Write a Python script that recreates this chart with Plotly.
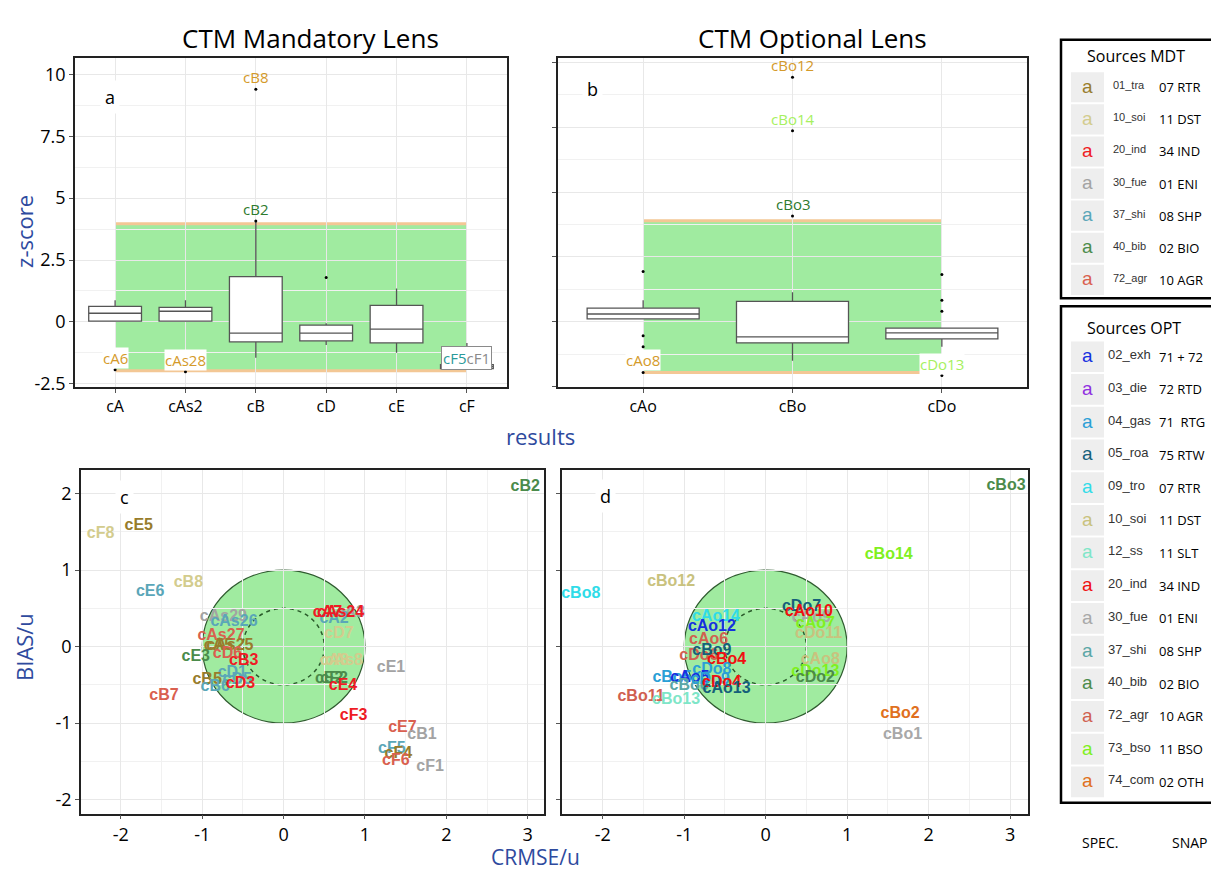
import plotly.graph_objects as go

# the page shows the figure 8 px in from the left window edge (body margin); vertically it sits at the top
OFF_X, OFF_Y = 8, 0
W, H = 1219 - OFF_X, 871

# ---------------- Panel a : CTM Mandatory Lens (z-score box plots) ----------------
cats_a = ["cA", "cAs2", "cB", "cD", "cE", "cF"]
q1_a = [0.03, 0.03, -0.81, -0.77, -0.85, -1.89]
med_a = [0.35, 0.43, -0.45, -0.45, -0.29, -1.81]
q3_a = [0.63, 0.59, 1.83, -0.13, 0.67, -1.73]
lo_a = [0.03, 0.03, -1.45, -0.93, -1.25, -1.89]
hi_a = [0.87, 0.87, 4.08, -0.05, 1.35, -0.85]
out_a_cat = ["cA", "cAs2", "cB", "cB", "cD"]
out_a_val = [-1.93, -2.01, 9.40, 4.08, 1.79]
out_a_lab = ["cA6", "cAs28", "cB8", "cB2", ""]
out_a_col = ["#d49a2a", "#d49a2a", "#d49a2a", "#2e7a2e", "#000000"]
band_a = [-1.97, 3.96]

# ---------------- Panel b : CTM Optional Lens ----------------
cats_b = ["cAo", "cBo", "cDo"]
q1_b = [0.11, -0.81, -0.66]
med_b = [0.30, -0.58, -0.43]
q3_b = [0.53, 0.79, -0.24]
lo_b = [0.11, -1.50, -0.96]
hi_b = [0.83, 1.14, -0.24]
out_b_cat = ["cAo", "cAo", "cAo", "cAo", "cBo", "cBo", "cBo", "cDo", "cDo", "cDo", "cDo"]
out_b_val = [1.94, -0.54, -0.96, -1.95, 4.08, 7.36, 9.42, 1.82, 0.83, 0.41, -2.07]
out_b_lab = ["", "", "", "cAo8", "cBo3", "cBo14", "cBo12", "", "", "", "cDo13"]
out_b_col = ["#000", "#000", "#000", "#d49a2a", "#2e7a2e", "#a6f060", "#d49a2a",
             "#000", "#000", "#000", "#a6f060"]
band_b = [-1.95, 3.89]

# ---------------- Source legends ----------------
mdt_spec = ["01_tra", "10_soi", "20_ind", "30_fue", "37_shi", "40_bib", "72_agr"]
mdt_snap = ["07 RTR", "11 DST", "34 IND", "01 ENI", "08 SHP", "02 BIO", "10 AGR"]
mdt_col = ["#987c2c", "#d3cc8e", "#ee1c25", "#a3a3a3", "#5aa6b8", "#4b8b4b", "#d9604f"]

opt_spec = ["02_exh", "03_die", "04_gas", "05_roa", "09_tro", "10_soi", "12_ss",
            "20_ind", "30_fue", "37_shi", "40_bib", "72_agr", "73_bso", "74_com"]
opt_snap = ["71 + 72", "72 RTD", "71  RTG", "75 RTW", "07 RTR", "11 DST", "11 SLT",
            "34 IND", "01 ENI", "08 SHP", "02 BIO", "10 AGR", "11 BSO", "02 OTH"]
opt_col = ["#1530e0", "#9030e0", "#2a9fd6", "#15607a", "#30dce8", "#c9c27e", "#7fe6c8",
           "#f01010", "#a8a8a8", "#5aa6a6", "#4b8b4b", "#d0604f", "#80f020", "#e07020"]

# ---------------- Panel c : target diagram, mandatory ----------------
c_lab = ["cF8", "cE5", "cE6", "cB8", "cAs29", "cAs26", "cAs27", "cA5", "cAs25", "cE3",
         "cD6", "cB3", "cD1", "cB5", "cB6", "cD5", "cD3", "cB7", "cA3", "cA2", "cA7",
         "cAs24", "cD7", "cA8", "cAs8", "cE1", "cE2", "cF2", "cE4", "cF3", "cE7", "cB1",
         "cF5", "cF4", "cF6", "cF1", "cB2"]
c_x = [-2.25, -1.78, -1.64, -1.17, -0.74, -0.61, -0.77, -0.80, -0.66, -1.08,
       -0.69, -0.49, -0.63, -0.94, -0.84, -0.57, -0.53, -1.47, 0.82, 0.62, 0.54,
       0.70, 0.68, 0.62, 0.74, 1.32, 0.56, 0.62, 0.73, 0.86, 1.46, 1.70,
       1.33, 1.41, 1.38, 1.80, 2.97]
c_y = [1.47, 1.57, 0.71, 0.83, 0.39, 0.32, 0.14, 0.01, 0.01, -0.13,
       -0.10, -0.19, -0.34, -0.44, -0.53, -0.44, -0.49, -0.65, 0.44, 0.36, 0.44,
       0.44, 0.16, -0.19, -0.19, -0.28, -0.42, -0.42, -0.51, -0.90, -1.06, -1.16,
       -1.34, -1.40, -1.50, -1.57, 2.08]
c_src = ["10_soi", "01_tra", "37_shi", "10_soi", "30_fue", "37_shi", "72_agr", "01_tra", "01_tra", "40_bib",
         "72_agr", "20_ind", "37_shi", "01_tra", "37_shi", "37_shi", "20_ind", "72_agr", "30_fue", "37_shi", "20_ind",
         "20_ind", "10_soi", "10_soi", "10_soi", "30_fue", "40_bib", "40_bib", "20_ind", "20_ind", "72_agr", "30_fue",
         "37_shi", "01_tra", "72_agr", "30_fue", "40_bib"]

# ---------------- Panel d : target diagram, optional ----------------
d_lab = ["cBo3", "cBo14", "cBo12", "cBo8", "cDo7", "cAo9", "cAo10", "cAo7", "cDo11", "cAo8",
         "cDo13", "cDo2", "cAo14", "cAo12", "cAo6", "cDo6", "cBo9", "cBo4", "cDo8", "cBo5",
         "cAo5", "cBo6", "cDo9", "cDo4", "cAo13", "cBo11", "cBo13", "cBo2", "cBo1"]
d_x = [2.95, 1.51, -1.16, -2.27, 0.44, 0.56, 0.53, 0.61, 0.65, 0.67,
       0.61, 0.61, -0.61, -0.66, -0.70, -0.82, -0.66, -0.48, -0.66, -1.15,
       -0.93, -0.94, -0.68, -0.54, -0.48, -1.53, -1.10, 1.65, 1.68]
d_y = [2.10, 1.19, 0.84, 0.69, 0.52, 0.37, 0.45, 0.30, 0.16, -0.18,
       -0.33, -0.41, 0.39, 0.26, 0.09, -0.12, -0.06, -0.18, -0.30, -0.41,
       -0.41, -0.52, -0.43, -0.48, -0.56, -0.66, -0.70, -0.88, -1.15]
d_src = ["40_bib", "73_bso", "10_soi", "09_tro", "05_roa", "30_fue", "20_ind", "73_bso", "10_soi", "10_soi",
         "73_bso", "40_bib", "09_tro", "02_exh", "72_agr", "72_agr", "05_roa", "20_ind", "04_gas", "04_gas",
         "02_exh", "37_shi", "04_gas", "20_ind", "05_roa", "72_agr", "12_ss", "74_com", "30_fue"]

mdt_map = dict(zip(mdt_spec, mdt_col))
opt_map = dict(zip(opt_spec, opt_col))
c_col = [mdt_map[s] for s in c_src]
d_col = [opt_map[s] for s in d_src]

# ---------------- helpers (window pixels -> paper fraction) ----------------
def px(x):
    return (x - OFF_X) / W

def py(y):
    return 1 - (y - OFF_Y) / H

GREEN = "#a0eba0"
PEACH = "#f3c795"
BLUE = "#2e4a9e"
FONT = "Open Sans"

fig = go.Figure()

# Box plots
fig.add_trace(go.Box(x=cats_a, q1=q1_a, median=med_a, q3=q3_a, lowerfence=lo_a,
                     upperfence=hi_a, width=0.75, whiskerwidth=0, boxpoints=False,
                     fillcolor="white", line=dict(color="#555555", width=1.3),
                     xaxis="x", yaxis="y", showlegend=False, hoverinfo="skip"))
fig.add_trace(go.Scatter(x=out_a_cat, y=out_a_val, mode="markers",
                         marker=dict(color="black", size=3), xaxis="x", yaxis="y",
                         showlegend=False, hoverinfo="skip"))
fig.add_trace(go.Box(x=cats_b, q1=q1_b, median=med_b, q3=q3_b, lowerfence=lo_b,
                     upperfence=hi_b, width=0.75, whiskerwidth=0, boxpoints=False,
                     fillcolor="white", line=dict(color="#555555", width=1.3),
                     xaxis="x2", yaxis="y2", showlegend=False, hoverinfo="skip"))
fig.add_trace(go.Scatter(x=out_b_cat, y=out_b_val, mode="markers",
                         marker=dict(color="black", size=3), xaxis="x2", yaxis="y2",
                         showlegend=False, hoverinfo="skip"))

# Target diagrams labels
fig.add_trace(go.Scatter(x=c_x, y=c_y, mode="text", text=c_lab,
                         textfont=dict(color=c_col, size=16, family="Liberation Sans", weight="bold"),
                         xaxis="x3", yaxis="y3", showlegend=False, hoverinfo="skip", cliponaxis=True))
fig.add_trace(go.Scatter(x=d_x, y=d_y, mode="text", text=d_lab,
                         textfont=dict(color=d_col, size=16, family="Liberation Sans", weight="bold"),
                         xaxis="x4", yaxis="y4", showlegend=False, hoverinfo="skip", cliponaxis=True))

shapes = []
# Green acceptance bands in a and b
for xr, yr, n, band in (("x", "y", len(cats_a), band_a), ("x2", "y2", len(cats_b), band_b)):
    shapes.append(dict(type="rect", xref=xr, yref=yr, x0=0, x1=n - 1, y0=band[0], y1=band[1],
                       fillcolor=GREEN, line=dict(width=0), layer="below"))
    for yv in band:
        shapes.append(dict(type="line", xref=xr, yref=yr, x0=0, x1=n - 1, y0=yv, y1=yv,
                           line=dict(color=PEACH, width=3), layer="below"))
# Circles in c and d
for xr, yr in (("x3", "y3"), ("x4", "y4")):
    shapes.append(dict(type="circle", xref=xr, yref=yr, x0=-1, x1=1, y0=-1, y1=1,
                       fillcolor=GREEN, line=dict(color="#2f5a2f", width=1.2), layer="below"))
    shapes.append(dict(type="circle", xref=xr, yref=yr, x0=-0.5, x1=0.5, y0=-0.5, y1=0.5,
                       fillcolor="rgba(0,0,0,0)", line=dict(color="#2a5a2a", width=1.5, dash="4px,4px"),
                       layer="below"))

annotations = []


def ann(x, y, text, size, color="black", family=FONT, xanchor="center", **kw):
    d = dict(x=px(x), y=py(y), xref="paper", yref="paper", text=text, showarrow=False,
             xanchor=xanchor, yanchor="middle", font=dict(family=family, size=size, color=color))
    d.update(kw)
    annotations.append(d)


# outlier labels
for xr, yr, cats, vals, labs, cols in (("x", "y", out_a_cat, out_a_val, out_a_lab, out_a_col),
                                       ("x2", "y2", out_b_cat, out_b_val, out_b_lab, out_b_col)):
    for c, v, l, col in zip(cats, vals, labs, cols):
        if l:
            annotations.append(dict(x=c, y=v, xref=xr, yref=yr, text=l, showarrow=False,
                                    xanchor="center", yanchor="middle", yshift=12,
                                    bgcolor="white" if v < 0 else "rgba(0,0,0,0)", borderpad=0,
                                    font=dict(family=FONT, size=15, color=col)))
annotations.append(dict(x="cF", y=-1.45, xref="x", yref="y", showarrow=False,
                        xanchor="center", yanchor="middle",
                        text='<span style="color:#2a9a9a">cF5</span><span style="color:#8a8a8a">cF1</span>',
                        bgcolor="white", bordercolor="#8a8a8a", borderwidth=1, borderpad=1,
                        font=dict(family=FONT, size=15)))
# panel letters
for lt, xv, yv, xr, yr in (("a", -0.07, 9.08, "x", "y"), ("b", -0.34, 8.95, "x2", "y2"),
                           ("c", -1.95, 1.95, "x3", "y3"), ("d", -1.96, 1.97, "x4", "y4")):
    annotations.append(dict(x=xv, y=yv, xref=xr, yref=yr, text=lt, showarrow=False,
                            xanchor="center", yanchor="middle", bgcolor="white", borderpad=4,
                            font=dict(family=FONT, size=18, color="black")))
# titles
ann(310, 30, "CTM Mandatory Lens", 26)
ann(813, 30, "CTM Optional Lens", 26)
ann(540, 432, "results", 22, BLUE)
ann(535, 857, "CRMSE/u", 21, BLUE)
ann(24, 226, "z-score", 22, BLUE, textangle=-90)
ann(24, 645, "BIAS/u", 22, BLUE, textangle=-90)


# legend boxes
def legend_box(top, bottom, title, title_y, specs, snaps, cols, row0, dy, spec_x, spec_size):
    shapes.append(dict(type="rect", xref="paper", yref="paper", x0=px(1061), x1=px(1216),
                       y0=py(bottom), y1=py(top), line=dict(color="black", width=2.5),
                       fillcolor="white", layer="below"))
    ann(1085, title_y, title, 16, xanchor="left")
    for i, (s, n, c) in enumerate(zip(specs, snaps, cols)):
        yc = row0 + i * dy
        shapes.append(dict(type="rect", xref="paper", yref="paper", x0=px(1071), x1=px(1104),
                           y0=py(yc + dy / 2 - 1), y1=py(yc - dy / 2 + 1),
                           fillcolor="#eeeeee", line=dict(width=0)))
        ann(1087, yc - 1, "a", 19, c, family="Liberation Sans")
        ann(spec_x, yc - 2, s, spec_size, "#333333", family="Liberation Sans", xanchor="left")
        ann(1157, yc, n, 13, xanchor="left")


legend_box(32, 293, "Sources MDT", 48, mdt_spec, mdt_snap, mdt_col, 80, 32.4, 1111, 11)
legend_box(301, 802, "Sources OPT", 323, opt_spec, opt_snap, opt_col, 352, 33.0, 1106, 13)
ann(1100, 842, "SPEC.", 14)
ann(1170, 842, "SNAP", 14, xanchor="left")

axis_common = dict(showgrid=True, gridcolor="#e8e8e8", gridwidth=1, zeroline=False, showline=True,
                   linecolor="#222222", linewidth=1.5, mirror=True, ticks="outside", ticklen=4,
                   tickcolor="#555555", tickfont=dict(family=FONT, size=18, color="black"))


def minor_grid(d):
    return dict(dtick=d, showgrid=True, gridcolor="#f1f1f1", ticks="")


ticks_z = [-2.5, 0, 2.5, 5, 7.5, 10]
ticks_z_txt = ["-2.5", "0", "2.5", "5", "7.5", "10"]
ticks_t = [-2, -1, 0, 1, 2, 3]
ticks_t_txt = ["-2", "-1", "0", "1", "2", "3"]

fig.update_layout(
    width=W, height=H, margin=dict(l=0, r=0, t=0, b=0),
    paper_bgcolor="white", plot_bgcolor="white", showlegend=False,
    xaxis=dict(axis_common, domain=[px(75), px(507)], anchor="y", type="category",
               categoryorder="array", categoryarray=cats_a, range=[-0.57, 5.57],
               tickfont=dict(family=FONT, size=16, color="black")),
    yaxis=dict(axis_common, domain=[py(383), py(50)], anchor="x", range=[-2.65, 10.68],
               tickvals=ticks_z, ticktext=ticks_z_txt, minor=minor_grid(1.25)),
    xaxis2=dict(axis_common, domain=[px(558), px(1027)], anchor="y2", type="category",
                categoryorder="array", categoryarray=cats_b, range=[-0.57, 2.57],
                tickfont=dict(family=FONT, size=16, color="black")),
    yaxis2=dict(axis_common, domain=[py(383), py(50)], anchor="x2", range=[-2.53, 10.18],
                tickvals=ticks_z, showticklabels=False, minor=minor_grid(1.25)),
    xaxis3=dict(axis_common, domain=[px(81), px(544)], anchor="y3", range=[-2.49, 3.2],
                tickvals=ticks_t, ticktext=ticks_t_txt, minor=minor_grid(0.5)),
    yaxis3=dict(axis_common, domain=[py(813), py(466)], anchor="x3", range=[-2.18, 2.31],
                tickvals=ticks_t[:-1], ticktext=ticks_t_txt[:-1], minor=minor_grid(0.5)),
    xaxis4=dict(axis_common, domain=[px(562), px(1028)], anchor="y4", range=[-2.5, 3.22],
                tickvals=ticks_t, ticktext=ticks_t_txt, minor=minor_grid(0.5)),
    yaxis4=dict(axis_common, domain=[py(813), py(466)], anchor="x4", range=[-2.18, 2.31],
                tickvals=ticks_t[:-1], showticklabels=False, minor=minor_grid(0.5)),
    shapes=shapes, annotations=annotations,
)

fig.write_html("out.html")
